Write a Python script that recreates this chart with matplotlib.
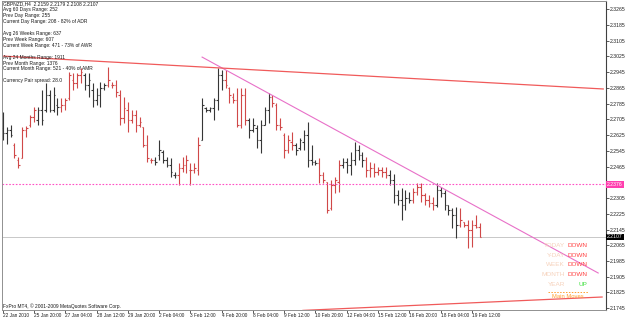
import numpy as np
import matplotlib
matplotlib.use("Agg")
import matplotlib.pyplot as plt
from matplotlib.lines import Line2D

# ---------------------------------------------------------------
# data (22 Jan 2010 12:00 .. 19 Feb 20:00)
# ---------------------------------------------------------------
opens = [2.2661, 2.2635, 2.2651, 2.2575, 2.2498, 2.2508, 2.2651, 2.2676, 2.2717, 2.2701,
         2.2752, 2.2752, 2.2828, 2.2752, 2.2778, 2.2767, 2.2778, 2.2813, 2.2905, 2.2889,
         2.2930, 2.2930, 2.2879, 2.2854, 2.2803, 2.2828, 2.2864, 2.2879, 2.2879, 2.2879,
         2.2828, 2.2712, 2.2752, 2.2701, 2.2727, 2.2676, 2.2666, 2.2575, 2.2498, 2.2498,
         2.2524, 2.2539, 2.2498, 2.2473, 2.2422, 2.2422, 2.2458, 2.2473, 2.2447, 2.2447,
         2.2447, 2.2600, 2.2762, 2.2752, 2.2762, 2.2803, 2.2930, 2.2905, 2.2864, 2.2818,
         2.2803, 2.2676, 2.2828, 2.2701, 2.2651, 2.2661, 2.2600, 2.2676, 2.2752, 2.2818,
         2.2778, 2.2676, 2.2625, 2.2549, 2.2590, 2.2575, 2.2559, 2.2590, 2.2625, 2.2498,
         2.2488, 2.2483, 2.2422, 2.2386, 2.2254, 2.2371, 2.2386, 2.2473, 2.2488, 2.2473,
         2.2498, 2.2549, 2.2524, 2.2498, 2.2447, 2.2458, 2.2437, 2.2447, 2.2437, 2.2422,
         2.2397, 2.2320, 2.2295, 2.2270, 2.2305, 2.2295, 2.2336, 2.2361, 2.2320, 2.2295,
         2.2280, 2.2270, 2.2346, 2.2331, 2.2270, 2.2244, 2.2219, 2.2168, 2.2183, 2.2168,
         2.2143, 2.2168, 2.2159]
highs = [2.2742, 2.2666, 2.2676, 2.2585, 2.2513, 2.2666, 2.2671, 2.2727, 2.2767, 2.2767,
         2.2854, 2.2889, 2.2854, 2.2869, 2.2813, 2.2813, 2.2813, 2.2945, 2.2940, 2.2940,
         2.2966, 2.2940, 2.2940, 2.2889, 2.2864, 2.2894, 2.2889, 2.2971, 2.2894, 2.2905,
         2.2854, 2.2818, 2.2793, 2.2752, 2.2752, 2.2717, 2.2666, 2.2625, 2.2508, 2.2513,
         2.2600, 2.2549, 2.2513, 2.2508, 2.2437, 2.2483, 2.2513, 2.2524, 2.2483, 2.2483,
         2.2615, 2.2813, 2.2767, 2.2767, 2.2813, 2.2966, 2.2955, 2.2955, 2.2869, 2.2839,
         2.2864, 2.2864, 2.2864, 2.2712, 2.2712, 2.2676, 2.2701, 2.2767, 2.2839, 2.2828,
         2.2788, 2.2712, 2.2635, 2.2625, 2.2640, 2.2585, 2.2610, 2.2651, 2.2691, 2.2575,
         2.2498, 2.2508, 2.2437, 2.2386, 2.2397, 2.2412, 2.2498, 2.2508, 2.2508, 2.2539,
         2.2590, 2.2575, 2.2539, 2.2513, 2.2488, 2.2483, 2.2463, 2.2463, 2.2463, 2.2447,
         2.2427, 2.2346, 2.2356, 2.2346, 2.2336, 2.2356, 2.2381, 2.2381, 2.2331, 2.2320,
         2.2310, 2.2381, 2.2361, 2.2346, 2.2270, 2.2254, 2.2259, 2.2254, 2.2183, 2.2193,
         2.2193, 2.2219, 2.2179]
lows = [2.2600, 2.2580, 2.2615, 2.2508, 2.2458, 2.2508, 2.2615, 2.2666, 2.2691, 2.2676,
        2.2676, 2.2742, 2.2742, 2.2742, 2.2727, 2.2742, 2.2752, 2.2803, 2.2854, 2.2864,
        2.2889, 2.2854, 2.2818, 2.2767, 2.2778, 2.2767, 2.2854, 2.2869, 2.2864, 2.2818,
        2.2676, 2.2686, 2.2640, 2.2686, 2.2640, 2.2666, 2.2564, 2.2488, 2.2483, 2.2473,
        2.2498, 2.2483, 2.2463, 2.2412, 2.2407, 2.2371, 2.2437, 2.2432, 2.2371, 2.2432,
        2.2422, 2.2600, 2.2742, 2.2742, 2.2701, 2.2752, 2.2854, 2.2864, 2.2788, 2.2788,
        2.2666, 2.2661, 2.2676, 2.2610, 2.2640, 2.2559, 2.2534, 2.2676, 2.2686, 2.2767,
        2.2651, 2.2651, 2.2508, 2.2534, 2.2549, 2.2524, 2.2549, 2.2549, 2.2463, 2.2473,
        2.2473, 2.2381, 2.2381, 2.2229, 2.2244, 2.2331, 2.2336, 2.2458, 2.2432, 2.2422,
        2.2473, 2.2498, 2.2463, 2.2412, 2.2412, 2.2412, 2.2422, 2.2412, 2.2407, 2.2371,
        2.2280, 2.2270, 2.2193, 2.2244, 2.2280, 2.2280, 2.2320, 2.2285, 2.2270, 2.2259,
        2.2244, 2.2259, 2.2310, 2.2244, 2.2219, 2.2153, 2.2102, 2.2158, 2.2158, 2.2051,
        2.2056, 2.2153, 2.2108]
closes = [2.2635, 2.2651, 2.2625, 2.2524, 2.2473, 2.2651, 2.2661, 2.2717, 2.2752, 2.2752,
          2.2701, 2.2828, 2.2752, 2.2828, 2.2767, 2.2778, 2.2803, 2.2930, 2.2889, 2.2930,
          2.2945, 2.2879, 2.2905, 2.2803, 2.2828, 2.2864, 2.2879, 2.2905, 2.2879, 2.2844,
          2.2712, 2.2762, 2.2701, 2.2727, 2.2676, 2.2691, 2.2575, 2.2508, 2.2498, 2.2488,
          2.2549, 2.2498, 2.2473, 2.2437, 2.2422, 2.2458, 2.2473, 2.2498, 2.2447, 2.2458,
          2.2575, 2.2778, 2.2752, 2.2762, 2.2803, 2.2930, 2.2905, 2.2879, 2.2828, 2.2803,
          2.2676, 2.2828, 2.2701, 2.2651, 2.2676, 2.2600, 2.2676, 2.2752, 2.2818, 2.2788,
          2.2676, 2.2666, 2.2549, 2.2600, 2.2575, 2.2549, 2.2600, 2.2625, 2.2498, 2.2488,
          2.2483, 2.2422, 2.2397, 2.2244, 2.2371, 2.2397, 2.2473, 2.2488, 2.2473, 2.2498,
          2.2549, 2.2524, 2.2498, 2.2447, 2.2458, 2.2437, 2.2447, 2.2437, 2.2422, 2.2397,
          2.2320, 2.2295, 2.2270, 2.2305, 2.2295, 2.2336, 2.2361, 2.2320, 2.2295, 2.2280,
          2.2270, 2.2346, 2.2331, 2.2270, 2.2244, 2.2219, 2.2168, 2.2193, 2.2168, 2.2143,
          2.2168, 2.2158, 2.2107]

# bars are coloured per trading day (d = black, r = red)
day_bars = [3] + [6] * 20
day_colours = ['d', 'r', 'd', 'r', 'd', 'r', 'r', 'd', 'r', 'd', 'r',
               'd', 'r', 'd', 'r', 'd', 'r', 'd', 'r', 'd', 'r']

time_ticks = [0, 8, 16, 24, 32, 40, 48, 56, 64, 72, 80, 88, 96, 104, 112, 120]
time_labels = ['22 Jan 2010', '25 Jan 20:00', '27 Jan 04:00', '28 Jan 12:00',
               '29 Jan 20:00', '2 Feb 04:00', '3 Feb 12:00', '4 Feb 20:00',
               '8 Feb 04:00', '9 Feb 12:00', '10 Feb 20:00', '12 Feb 04:00',
               '15 Feb 12:00', '16 Feb 20:00', '18 Feb 04:00', '19 Feb 12:00']

# 2.2385 sits under the pink level label, so it is not printed
price_ticks = [2.1745, 2.1825, 2.1905, 2.1985, 2.2065, 2.2145, 2.2225, 2.2305,
               2.2465, 2.2545, 2.2625, 2.2705, 2.2785, 2.2865, 2.2945,
               2.3025, 2.3105, 2.3185, 2.3265]

# trend lines: (bar index, price) end points
pink_trend = ([51.0, 152.3], [2.3021, 2.1924])
top_trend = ([-0.7, 153.6], [2.3027, 2.2859])
bottom_trend = ([76.8, 153.3], [2.1734, 2.1802])
pink_level = 2.2376
last_price = 2.2107

info_lines = ['GBPNZD,H4  2.2159 2.2179 2.2108 2.2107',
              'Avg 60 Days Range: 252',
              'Prev Day Range: 255',
              'Current Day Range: 208 - 82% of ADR',
              '',
              'Avg 26 Weeks Range: 637',
              'Prev Week Range: 607',
              'Current Week Range: 471 - 73% of AWR',
              '',
              'Avg 24 Months Range: 1911',
              'Prev Month Range: 1376',
              'Current Month Range: 521 - 40% of AMR',
              '',
              'Currency Pair spread: 28.0']

move_names = ['TODAY', 'Y-DAY', 'WEEK', 'MONTH', 'YEAR']
move_dirs = ['DOWN', 'DOWN', 'DOWN', 'DOWN', 'UP']

# ---------------------------------------------------------------
# figure
# ---------------------------------------------------------------
W, H = 625, 319
FONT = 'Liberation Sans'
DARK = '#363636'
RED = '#d04848'


def fx(x):
    return x / W


def fy(y):
    return 1 - y / H


fig = plt.figure(figsize=(W / 100, H / 100), dpi=100)
fig.patch.set_facecolor('white')
ax = fig.add_axes([fx(2), fy(310), fx(606) - fx(2), fy(1) - fy(310)])
ax.set_xlim(-0.18, 154.3)
ax.set_ylim(2.1736, 2.3306)

idx = np.arange(len(opens))
cols = np.repeat([DARK if c == 'd' else RED for c in day_colours], day_bars)

ax.vlines(idx, lows, highs, colors=cols, lw=0.8)
ax.hlines(opens, idx - 0.4, idx, colors=cols, lw=0.8)
ax.hlines(closes, idx, idx + 0.4, colors=cols, lw=0.8)

# lines
ax.axhline(last_price, color='#c8c8c8', lw=0.7, zorder=0)
ax.axhline(pink_level, color='#ff4fc4', lw=0.8, ls=(0, (1.5, 1.5)))
ax.plot(*pink_trend, color='#e870c8', lw=0.8)
ax.plot(*top_trend, color='#f05a5a', lw=0.9)
ax.plot(*bottom_trend, color='#f05a5a', lw=0.9)

# axes styling
for side in ['left', 'bottom', 'top']:
    ax.spines[side].set_color('#909090')
    ax.spines[side].set_linewidth(0.7)
ax.spines['right'].set_color('#404040')
ax.spines['right'].set_linewidth(0.8)

ax.yaxis.tick_right()
ax.set_yticks(price_ticks)
ax.set_yticklabels(['%.4f' % p for p in price_ticks], family=FONT)
ax.tick_params(axis='y', labelsize=3.7, length=1.8, pad=0.6, width=0.6,
               color='#404040', labelcolor='#202020')

ax.set_xticks(time_ticks)
ax.set_xticklabels(time_labels, family=FONT, ha='left')
ax.tick_params(axis='x', labelsize=3.4, length=2, pad=0.3, width=0.6,
               color='#404040', labelcolor='#202020')

# price labels on the scale
ax.text(1.002, pink_level, '%.4f' % pink_level, transform=ax.get_yaxis_transform(),
        fontsize=3.7, family=FONT, color='white', va='center', ha='left',
        bbox=dict(fc='#ff3fae', ec='none', pad=0.7), clip_on=False)
ax.text(1.002, last_price, '%.4f' % last_price, transform=ax.get_yaxis_transform(),
        fontsize=3.7, family=FONT, color='white', va='center', ha='left',
        bbox=dict(fc='black', ec='none', pad=0.7), clip_on=False)

# info block, top left
for i, line in enumerate(info_lines):
    fig.text(fx(3), fy(4 + 5.9 * i), line, fontsize=3.5, family=FONT,
             color='#1a1a1a', va='center', ha='left')

fig.text(fx(3), fy(306), 'FxPro MT4, \u00a9 2001-2009 MetaQuotes Software Corp.',
         fontsize=3.5, family=FONT, color='#1a1a1a', va='center', ha='left')

# main moves panel, bottom right
for i, (name, d) in enumerate(zip(move_names, move_dirs)):
    yy = fy(245.7 + 9.65 * i)
    fig.text(fx(565), yy, name, fontsize=4.6, family=FONT, color='#f6d2bc',
             va='center', ha='right')
    fig.text(fx(587.5), yy, d, fontsize=4.6, family=FONT,
             color='#ff4040' if d == 'DOWN' else '#3ee03e', va='center', ha='right')

fig.add_artist(Line2D([fx(548), fx(588)], [fy(292), fy(292)], transform=fig.transFigure,
                      color='#ffa030', lw=0.7, ls=(0, (1.5, 1.5))))
fig.text(fx(568), fy(297), 'Main Moves', fontsize=4.2, family=FONT,
         color='#ffa030', va='center', ha='center')

fig.savefig('out.png', dpi=100)
